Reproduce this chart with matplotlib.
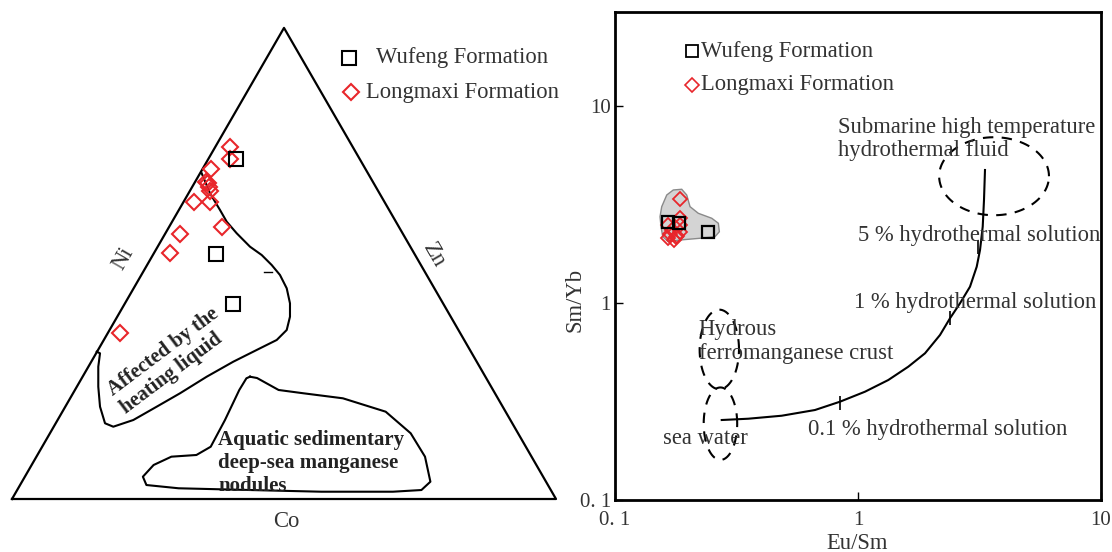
import numpy as np
import matplotlib.pyplot as plt

plt.rcParams['font.family'] = ['Liberation Serif', 'DejaVu Serif']

# ---- Co-Ni-Zn triangle (positions in triangle units, side = 1) ----
tri_long_x = [0.4007, 0.4007, 0.3658, 0.3608, 0.3627, 0.3640, 0.3575,
              0.3351, 0.3640, 0.3855, 0.3088, 0.2904, 0.1985]
tri_long_y = [0.6465, 0.6244, 0.6066, 0.5803, 0.5741, 0.5662, 0.5827,
              0.5454, 0.5460, 0.4994, 0.4877, 0.4522, 0.3051]
tri_wuf_x = [0.4118, 0.3744, 0.4063]
tri_wuf_y = [0.6256, 0.4498, 0.3585]

heat_x = [0.3487, 0.3640, 0.3732, 0.3824, 0.3947, 0.4131, 0.4375, 0.4590,
          0.4774, 0.4926, 0.5050, 0.5110, 0.5110, 0.5050, 0.4866, 0.4559,
          0.4068, 0.3579, 0.3088, 0.2660, 0.2230, 0.1862, 0.1710, 0.1618,
          0.1586, 0.1586, 0.1618, 0.1557]
heat_y = [0.5987, 0.5619, 0.5465, 0.5312, 0.5097, 0.4884, 0.4638, 0.4485,
          0.4301, 0.4118, 0.3873, 0.3597, 0.3351, 0.3107, 0.2923, 0.2770,
          0.2524, 0.2248, 0.1943, 0.1697, 0.1452, 0.1329, 0.1392, 0.1697,
          0.2064, 0.2432, 0.2678, 0.2708]

nod_x = [0.4375, 0.4504, 0.4901, 0.5360, 0.6083, 0.6869, 0.7329, 0.7592,
         0.7691, 0.7526, 0.7002, 0.5688, 0.4375, 0.3063, 0.2471, 0.2406,
         0.2603, 0.2930, 0.3390, 0.3653, 0.3915, 0.4178, 0.4309, 0.4375]
nod_y = [0.2248, 0.2224, 0.2004, 0.1943, 0.1851, 0.1605, 0.1208, 0.0778,
         0.0318, 0.0165, 0.0134, 0.0134, 0.0165, 0.0197, 0.0257, 0.0410,
         0.0625, 0.0778, 0.0809, 0.0961, 0.1452, 0.2004, 0.2219, 0.2248]

# ---- Eu/Sm vs Sm/Yb ----
eu_long = [0.1852, 0.1652, 0.1716, 0.1782, 0.1652, 0.1852, 0.1852,
           0.1750, 0.1852, 0.1680, 0.1800]
sm_long = [3.36, 2.489, 2.348, 2.163, 2.138, 2.489, 2.293,
           2.088, 2.70, 2.25, 2.20]
eu_wuf = [0.1648, 0.1840, 0.2421]
sm_wuf = [2.586, 2.556, 2.30]

field_eu = [0.1557, 0.1633, 0.1737, 0.1882, 0.1973, 0.2036, 0.2202, 0.2502,
            0.2663, 0.2688, 0.2580, 0.2238, 0.1852, 0.1657, 0.1572, 0.1547,
            0.1532]
field_sm = [3.083, 3.534, 3.747, 3.778, 3.534, 3.083, 2.853, 2.692,
            2.539, 2.301, 2.171, 2.131, 2.088, 2.047, 2.171, 2.440,
            2.742]

# seawater -> hydrothermal fluid mixing line
mix_eu = [0.2749, 0.3537, 0.4853, 0.6653, 0.8430, 1.0686, 1.3326, 1.6106,
          1.8870, 2.175, 2.391, 2.629, 2.890, 3.080, 3.178, 3.260, 3.300,
          3.331]
mix_sm = [0.2547, 0.2586, 0.2678, 0.2863, 0.3155, 0.3546, 0.4065, 0.4750,
          0.5555, 0.6880, 0.8363, 0.9965, 1.2097, 1.5285, 1.8578, 2.4393,
          3.333, 4.733]
# 0.1 %, 1 %, 5 % hydrothermal solution
mark_eu = [0.843, 2.391, 3.127]
mark_sm = [0.3097, 0.836, 1.918]

# end-member fields: centre (Eu/Sm, Sm/Yb), half-widths in decades
ellipses = [(3.63, 4.40, 0.226, 0.198),
            (0.2687, 0.581, 0.081, 0.202),
            (0.2716, 0.244, 0.069, 0.184)]

red = '#e8262b'
txt = '#333333'
fs = 16.3

fig = plt.figure(figsize=(11.12, 5.52), dpi=100)

# left: ternary
ax1 = fig.add_axes([0, 0, 590 / 1112, 1])
ax1.set_xlim(-12 / 544, 578 / 544)
ax1.set_ylim(-53 / 544, 499 / 544)
ax1.axis('off')
h = np.sqrt(3) / 2
ax1.plot([0, 1, 0.5, 0], [0, 0, h, 0], color='black', lw=1.6)
ax1.plot(heat_x, heat_y, color='black', lw=1.5)
ax1.plot([0.4627, 0.4779], [0.4167, 0.4167], color='black', lw=1)
ax1.plot(nod_x, nod_y, color='black', lw=1.5)
ax1.plot(tri_long_x, tri_long_y, 'D', ms=8.5, mfc='none', mec=red, mew=1.5)
ax1.plot(tri_wuf_x, tri_wuf_y, 's', ms=10, mfc='none', mec='black', mew=1.5)

ax1.text(0.5037, -0.0420, 'Co', fontsize=fs, color=txt, ha='center',
         va='center')
ax1.text(0.2050, 0.443, 'Ni', fontsize=fs, color=txt, ha='center',
         va='center', rotation=60)
ax1.text(0.7757, 0.4485, 'Zn', fontsize=fs, color=txt, ha='center',
         va='center', rotation=-60)
ax1.text(0.2900, 0.2540, 'Affected by the\nheating liquid', fontsize=14.8,
         fontweight='bold', color='#222222', ha='center', va='center',
         rotation=37, linespacing=1.2, multialignment='left')
ax1.text(0.3787, 0.0662, 'Aquatic sedimentary\ndeep-sea manganese\nnodules',
         fontsize=15, fontweight='bold', color='#222222', ha='left',
         va='center', linespacing=1.18)

ax1.plot(0.6195, 0.8107, 's', ms=10, mfc='none', mec='black', mew=1.5)
ax1.text(0.669, 0.8107, 'Wufeng Formation', fontsize=fs, color=txt,
         va='center')
ax1.plot(0.623, 0.748, 'D', ms=8.5, mfc='none', mec=red, mew=1.5)
ax1.text(0.6507, 0.748, 'Longmaxi Formation', fontsize=fs, color=txt,
         va='center')

# right: log-log discrimination
ax2 = fig.add_axes([615 / 1112, 52 / 552, 486 / 1112, 488 / 552])
ax2.set_xscale('log')
ax2.set_yscale('log')
ax2.set_xlim(0.1, 10)
ax2.set_ylim(0.1, 30)
ax2.set_xticks([0.1, 1, 10])
ax2.set_xticklabels(['0. 1', '1', '10'])
ax2.set_yticks([0.1, 1, 10])
ax2.set_yticklabels(['0. 1', '1', '10'])
ax2.minorticks_off()
ax2.tick_params(direction='in', length=6, width=1, labelsize=15,
                labelcolor=txt)
ax2.tick_params(axis='x', pad=8)
ax2.tick_params(axis='y', pad=3)
for s in ax2.spines.values():
    s.set_linewidth(2)
ax2.set_xlabel('Eu/Sm', fontsize=fs, color=txt)
ax2.xaxis.set_label_coords(0.498, -0.068)
ax2.set_ylabel('Sm/Yb', fontsize=fs, color=txt)
ax2.yaxis.set_label_coords(-0.06, 0.41)

ax2.fill(field_eu, field_sm, facecolor='#d4d4d4', edgecolor='#8a8a8a', lw=1)
ax2.plot(eu_long, sm_long, 'D', ms=7, mfc='none', mec=red, mew=1.3)
ax2.plot(eu_wuf, sm_wuf, 's', ms=9, mfc='none', mec='black', mew=1.6)

ax2.plot(mix_eu, mix_sm, color='black', lw=1.5)
ax2.plot(mark_eu, mark_sm, '|', ms=10, color='black', mew=1.2)

t = np.linspace(0, 2 * np.pi, 200)
for cx, cy, rx, ry in ellipses:
    ex = 10 ** (np.log10(cx) + rx * np.cos(t))
    ey = 10 ** (np.log10(cy) + ry * np.sin(t))
    ax2.plot(ex, ey, color='black', lw=1.5, ls=(0, (5, 4)))

ax2.plot(0.2074, 18.96, 's', ms=9, mfc='none', mec='black', mew=1.3)
ax2.text(0.2259, 18.96, 'Wufeng Formation', fontsize=fs, color=txt,
         va='center')
ax2.plot(0.2074, 12.79, 'D', ms=7, mfc='none', mec=red, mew=1.2)
ax2.text(0.2259, 12.79, 'Longmaxi Formation', fontsize=fs, color=txt,
         va='center')

ax2.text(0.829, 6.81, 'Submarine high temperature\nhydrothermal fluid',
         fontsize=fs, color=txt, va='center', linespacing=1.15)
ax2.text(0.996, 2.207, '5 % hydrothermal solution', fontsize=fs, color=txt,
         va='center')
ax2.text(0.966, 1.006, '1 % hydrothermal solution', fontsize=fs, color=txt,
         va='center')
ax2.text(0.2211, 0.639, 'Hydrous\nferromanganese crust', fontsize=fs,
         color=txt, va='center', linespacing=1.15)
ax2.text(0.1576, 0.2044, 'sea water', fontsize=fs, color=txt, va='center')
ax2.text(0.6232, 0.2288, '0.1 % hydrothermal solution', fontsize=fs,
         color=txt, va='center')

fig.savefig('out.png', dpi=100)
